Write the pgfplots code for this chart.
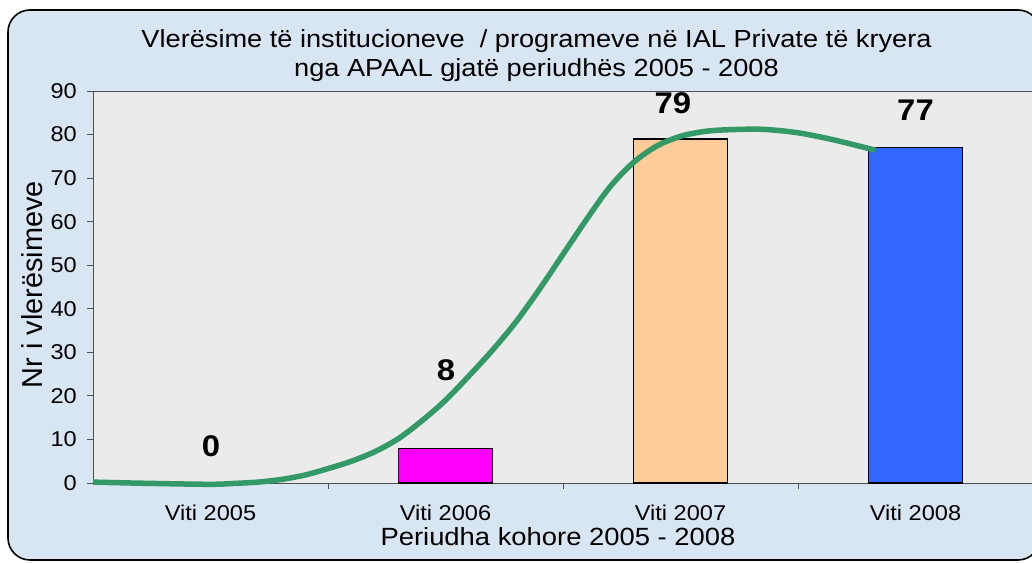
\documentclass[border=0pt]{standalone}
\usepackage{fontspec}
\setmainfont{Liberation Sans}[FakeStretch=1.1]
\newfontfamily\plainfont{Liberation Sans}
\usepackage{pgfplots}
\pgfplotsset{compat=1.18}
\definecolor{bgblue}{HTML}{D8E6F4}
\definecolor{plotgray}{HTML}{EBEBEB}
\definecolor{curvegreen}{HTML}{339966}
\definecolor{barmag}{HTML}{FF00FF}
\definecolor{barpeach}{HTML}{FFCC99}
\definecolor{barblue}{HTML}{3366FF}
\definecolor{axgray}{HTML}{505050}

\begin{document}
\begin{tikzpicture}[x=1bp,y=1bp]
\useasboundingbox (0,0) rectangle (1032,563);
\fill[white] (0,0) rectangle (1032,563);
\fill[bgblue, rounded corners=22bp] (8,3) rectangle (1040,553);
\draw[black, line width=1.6bp, rounded corners=22bp] (8,3) rectangle (1040,553);

\begin{axis}[
    at={(93bp,80bp)}, anchor=south west,
    scale only axis, width=940bp, height=392bp,
    xmin=-0.5, xmax=3.5, ymin=0, ymax=90,
    axis background/.style={fill=plotgray},
    axis line style={draw=axgray, line width=0.9bp},
    tick pos=left, tick align=outside,
    major tick length=6bp, minor tick length=6bp,
    ytick={0,10,...,90},
    xtick={0,1,2,3},
    xticklabels={Viti 2005,Viti 2006,Viti 2007,Viti 2008},
    minor xtick={0.5,1.5,2.5},
    major x tick style={draw=none},
    tick style={draw=axgray, line width=0.9bp},
    /pgf/number format/assume math mode=true,
    tick label style={font=\fontsize{21.5}{24}\selectfont},
    yticklabel style={anchor=east, inner sep=0pt, xshift=-10bp},
    xticklabel style={anchor=base, inner sep=0pt, yshift=-32bp},
    clip=false,
]
% bars, one colour for each year
\addplot[ybar, bar shift=0pt, bar width=0.4, draw=none, fill=none] coordinates {(0,0)};
\addplot[ybar, bar shift=0pt, bar width=0.4, draw=black, line width=1.2bp, fill=barmag] coordinates {(1,8)};
\addplot[ybar, bar shift=0pt, bar width=0.4, draw=black, line width=1.2bp, fill=barpeach] coordinates {(2,79)};
\addplot[ybar, bar shift=0pt, bar width=0.4, draw=black, line width=1.2bp, fill=barblue] coordinates {(3,77)};

% trend curve
\addplot[smooth, no marks, draw=curvegreen, line width=5.5bp] coordinates {
    (-0.5,0.2) (-0.25,-0.1) (0,-0.3) (0.1,-0.1) (0.2,0.2) (0.3,0.8)
    (0.4,1.8) (0.5,3.3) (0.6,5.0) (0.7,7.2) (0.8,10.2) (0.9,14.3)
    (1.0,19.0) (1.1,24.6) (1.2,30.5) (1.3,37.0) (1.4,44.5) (1.5,52.5)
    (1.6,60.5) (1.7,68.0) (1.8,73.6) (1.9,77.4) (2.0,79.6) (2.1,80.7)
    (2.2,81.1) (2.35,81.2) (2.5,80.4) (2.65,78.8) (2.83,76.4)
};

\node[font=\fontsize{30}{32}\selectfont\bfseries] at (axis cs:0.002,8.4) {0};
\node[font=\fontsize{30}{32}\selectfont\bfseries] at (axis cs:1.002,25.9) {8};
\node[font=\fontsize{30}{32}\selectfont\bfseries] at (axis cs:1.968,87.3) {79};
\node[font=\fontsize{30}{32}\selectfont\bfseries] at (axis cs:3.0,85.6) {77};
\end{axis}

\node[anchor=base, font=\fontsize{24.8}{29}\selectfont] at (536.5,515)
    {Vlerësime të institucioneve~ / programeve në IAL Private të kryera};
\node[anchor=base, font=\fontsize{24.8}{29}\selectfont] at (536.5,486)
    {nga APAAL gjatë periudhës 2005 - 2008};
\node[anchor=base, font=\fontsize{25}{28}\selectfont] at (558,17.5)
    {Periudha kohore 2005 - 2008};
\node[anchor=base, rotate=90, font=\plainfont\fontsize{29}{31}\selectfont] at (42,278.5)
    {Nr i vlerësimeve};
\end{tikzpicture}
\end{document}
